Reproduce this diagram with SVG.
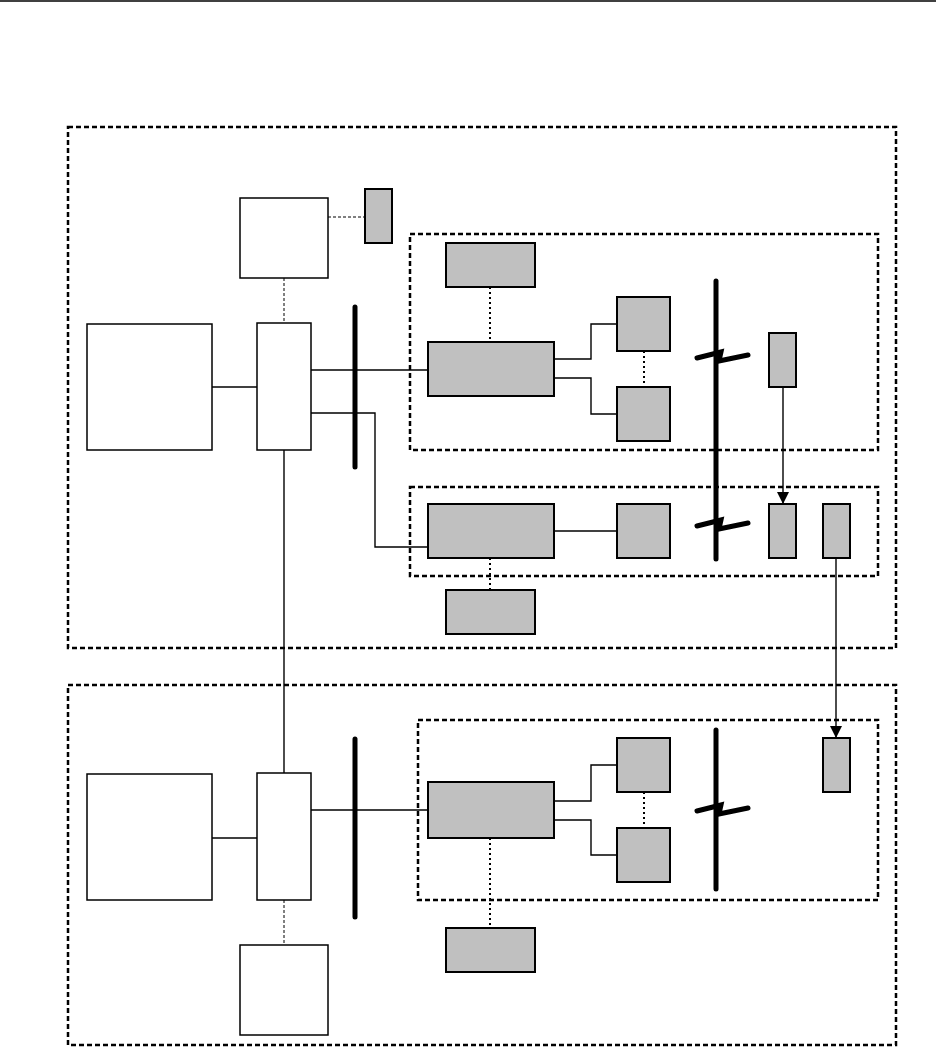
<svg xmlns="http://www.w3.org/2000/svg" width="936" height="1063" viewBox="0 0 936 1063">
<defs>
<style>
.w{fill:#fff;stroke:#000;stroke-width:1.5}
.g{fill:#c0c0c0;stroke:#000;stroke-width:2}
.zone{fill:none;stroke:#000;stroke-width:2.5;stroke-dasharray:5 3}
.ln{fill:none;stroke:#000;stroke-width:1.4}
.dot{fill:none;stroke:#000;stroke-width:2;stroke-dasharray:2 3}
.thin{fill:none;stroke:#000;stroke-width:1;stroke-dasharray:3 2}
.bus{fill:none;stroke:#000;stroke-width:5;stroke-linecap:round}
.bolt{fill:none;stroke:#000;stroke-width:5;stroke-linejoin:miter;stroke-linecap:round}
</style>
<marker id="ah" viewBox="0 0 12 12" refX="12" refY="6" markerWidth="12" markerHeight="12" markerUnits="userSpaceOnUse" orient="auto">
<path d="M0,0 L12,6 L0,12 Z" fill="#000"/>
</marker>
</defs>
<rect width="936" height="1063" fill="#fff"/>
<line x1="0" y1="1" x2="936" y2="1" stroke="#000" stroke-width="1.5"/>

<g id="zones">
<rect id="zone-top" class="zone" x="68" y="127" width="828" height="521"/>
<rect id="zone-bottom" class="zone" x="68" y="685" width="828" height="360"/>
<rect id="zone-a" class="zone" x="410" y="234" width="468" height="216"/>
<rect id="zone-b" class="zone" x="410" y="487" width="468" height="89"/>
<rect id="zone-c" class="zone" x="418" y="720" width="460" height="180"/>
</g>

<g id="connectors">
<line class="thin" x1="328" y1="217" x2="365" y2="217"/>
<line class="thin" x1="284" y1="278" x2="284" y2="323"/>
<line class="ln" x1="212" y1="387" x2="257" y2="387"/>
<line class="ln" x1="311" y1="370" x2="428" y2="370"/>
<polyline class="ln" points="311,413 375,413 375,547 428,547"/>
<line class="dot" x1="490" y1="287" x2="490" y2="342"/>
<polyline class="ln" points="554,359 591,359 591,324 617,324"/>
<polyline class="ln" points="554,378 591,378 591,414 617,414"/>
<line class="dot" x1="644" y1="351" x2="644" y2="387"/>
<line class="ln" x1="783" y1="387" x2="783" y2="504" marker-end="url(#ah)"/>
<line class="ln" x1="554" y1="531" x2="617" y2="531"/>
<line class="dot" x1="490" y1="558" x2="490" y2="590"/>
<line class="ln" x1="836" y1="558" x2="836" y2="738" marker-end="url(#ah)"/>
<line class="ln" x1="284" y1="450" x2="284" y2="773"/>
<line class="ln" x1="212" y1="838" x2="257" y2="838" stroke-width="2"/>
<line class="ln" x1="311" y1="810" x2="428" y2="810"/>
<polyline class="ln" points="554,801 591,801 591,765 617,765"/>
<polyline class="ln" points="554,820 591,820 591,855 617,855"/>
<line class="dot" x1="644" y1="792" x2="644" y2="828"/>
<line class="dot" x1="490" y1="838" x2="490" y2="928"/>
<line class="thin" x1="284" y1="900" x2="284" y2="945"/>
</g>

<g id="buses">
<line class="bus" x1="355" y1="307" x2="355" y2="467"/>
<line class="bus" x1="716" y1="281" x2="716" y2="559"/>
<path class="bolt" d="M697,358 L721,352 L719,361 L748,355"/>
<path class="bolt" d="M697,526 L721,520 L719,529 L748,523"/>
<line class="bus" x1="355" y1="739" x2="355" y2="917"/>
<line class="bus" x1="716" y1="730" x2="716" y2="889"/>
<path class="bolt" d="M697,811 L721,805 L719,814 L748,808"/>
</g>

<g id="n-top-white"><rect class="w" x="240" y="198" width="88" height="80"/></g>
<g id="n-top-small"><rect class="g" x="365" y="189" width="27" height="54"/></g>
<g id="n-left1"><rect class="w" x="87" y="324" width="125" height="126"/></g>
<g id="n-tall1"><rect class="w" x="257" y="323" width="54" height="127"/></g>
<g id="n-a-top"><rect class="g" x="446" y="243" width="89" height="44"/></g>
<g id="n-a-main"><rect class="g" x="428" y="342" width="126" height="54"/></g>
<g id="n-a-s1"><rect class="g" x="617" y="297" width="53" height="54"/></g>
<g id="n-a-s2"><rect class="g" x="617" y="387" width="53" height="54"/></g>
<g id="n-a-r"><rect class="g" x="769" y="333" width="27" height="54"/></g>
<g id="n-b-main"><rect class="g" x="428" y="504" width="126" height="54"/></g>
<g id="n-b-s"><rect class="g" x="617" y="504" width="53" height="54"/></g>
<g id="n-b-r1"><rect class="g" x="769" y="504" width="27" height="54"/></g>
<g id="n-b-r2"><rect class="g" x="823" y="504" width="27" height="54"/></g>
<g id="n-b-bot"><rect class="g" x="446" y="590" width="89" height="44"/></g>
<g id="n-left2"><rect class="w" x="87" y="774" width="125" height="126"/></g>
<g id="n-tall2"><rect class="w" x="257" y="773" width="54" height="127"/></g>
<g id="n-c-main"><rect class="g" x="428" y="782" width="126" height="56"/></g>
<g id="n-c-s1"><rect class="g" x="617" y="738" width="53" height="54"/></g>
<g id="n-c-s2"><rect class="g" x="617" y="828" width="53" height="54"/></g>
<g id="n-c-r"><rect class="g" x="823" y="738" width="27" height="54"/></g>
<g id="n-c-bot"><rect class="g" x="446" y="928" width="89" height="44"/></g>
<g id="n-bottom-white"><rect class="w" x="240" y="945" width="88" height="90"/></g>
</svg>
